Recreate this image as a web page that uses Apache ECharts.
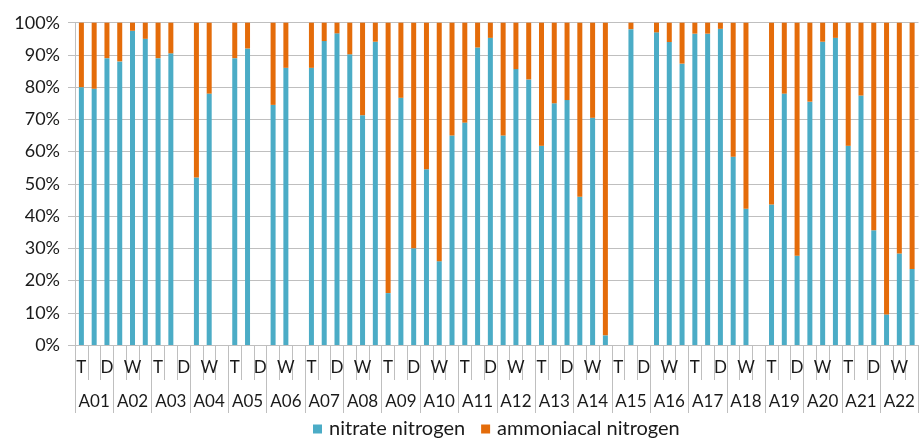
<!DOCTYPE html>
<html>
<head>
<meta charset="utf-8">
<script src="https://cdn.jsdelivr.net/npm/echarts@6/dist/echarts.min.js"></script>
<style>
  html, body { margin: 0; padding: 0; background: #fff; }
  #root { width: 923px; height: 439px; }
</style>
</head>
<body>
<div id="root"></div>
<script>
// sample sites and the three sampling slots inside each site
const sites = ['A01','A02','A03','A04','A05','A06','A07','A08','A09','A10','A11',
  'A12','A13','A14','A15','A16','A17','A18','A19','A20','A21','A22']
const slotNames = ['T', 'W', 'D']

// share of nitrate nitrogen (%), one value per slot, null = no sample
const nitrate = [
  80, 79.5, 89,   88, 97.5, 95,   89, 90.5, null,   52, 78, null,
  89, 92, null,   74.5, 86, null,   86, 94.3, 96.7,   90.2, 71.3, 94.1,
  16.1, 76.7, 30,   54.5, 26, 65,   69, 92.3, 95.3,   65, 85.6, 82.4,
  61.8, 75, 76,   46, 70.5, 3,   null, 98, null,   97, 94, 87.3,
  96.6, 96.6, 98.1,   58.4, 42.3, null,   43.6, 78, 27.7,   75.5, 94.1, 95.3,
  61.8, 77.4, 35.6,   9.5, 28.4, 23.6
]

// share of ammoniacal nitrogen (%)
const ammonia = [
  20, 20.5, 11,   12, 2.5, 5,   11, 9.5, null,   48, 22, null,
  11, 8, null,   25.5, 14, null,   14, 5.7, 3.3,   9.8, 28.7, 5.9,
  83.9, 23.3, 70,   45.5, 74, 35,   31, 7.7, 4.7,   35, 14.4, 17.6,
  38.2, 25, 24,   54, 29.5, 97,   null, 2, null,   3, 6, 12.7,
  3.4, 3.4, 1.9,   41.6, 57.7, null,   56.4, 22, 72.3,   24.5, 5.9, 4.7,
  38.2, 22.6, 64.4,   90.5, 71.6, 76.4
]

const slots = []
sites.forEach(() => slotNames.forEach(s => slots.push(s)))

const chart = echarts.init(document.getElementById('root'))
const font = 'Lato, "Open Sans", sans-serif'
const gray = '#BFBFBF'
const textColor = '#1a1a1a'

const option = {
  animation: false,
  textStyle: { fontFamily: font },
  grid: { left: 75, right: 4.5, top: 22.7, bottom: 94, containLabel: false },
  legend: {
    top: 414,
    left: 308,
    itemWidth: 9,
    itemHeight: 9,
    itemGap: 16,
    icon: 'rect',
    textStyle: { fontSize: 20, color: textColor, fontFamily: font, padding: [0, 0, 0, 2] },
    data: ['nitrate nitrogen', 'ammoniacal nitrogen']
  },
  xAxis: [
    {
      type: 'category',
      data: slots,
      position: 'bottom',
      axisLine: { show: true, lineStyle: { color: gray } },
      axisTick: { show: true, interval: 0, length: 35, lineStyle: { color: gray } },
      axisLabel: { interval: 1, margin: 14, fontSize: 17, color: textColor, fontFamily: font },
      splitLine: { show: false }
    },
    {
      type: 'category',
      data: sites,
      position: 'bottom',
      axisLine: { show: false },
      axisTick: { show: true, interval: 0, length: 68, lineStyle: { color: gray } },
      axisLabel: { interval: 0, margin: 48, fontSize: 17, color: textColor, fontFamily: font },
      splitLine: { show: false }
    }
  ],
  yAxis: {
    type: 'value',
    min: 0,
    max: 100,
    interval: 10,
    axisLine: { show: true, lineStyle: { color: gray } },
    axisTick: { show: true, length: 7, lineStyle: { color: gray } },
    axisLabel: { formatter: '{value}%', margin: 15, fontSize: 18, color: textColor, fontFamily: font },
    splitLine: { show: true, lineStyle: { color: gray, width: 1 } }
  },
  series: [
    {
      name: 'nitrate nitrogen',
      type: 'bar',
      stack: 'total',
      barWidth: 5,
      itemStyle: { color: '#4BACC6' },
      data: nitrate
    },
    {
      name: 'ammoniacal nitrogen',
      type: 'bar',
      stack: 'total',
      barWidth: 5,
      itemStyle: { color: '#E46C0A' },
      data: ammonia
    }
  ]
}

chart.setOption(option)
</script>
</body>
</html>
